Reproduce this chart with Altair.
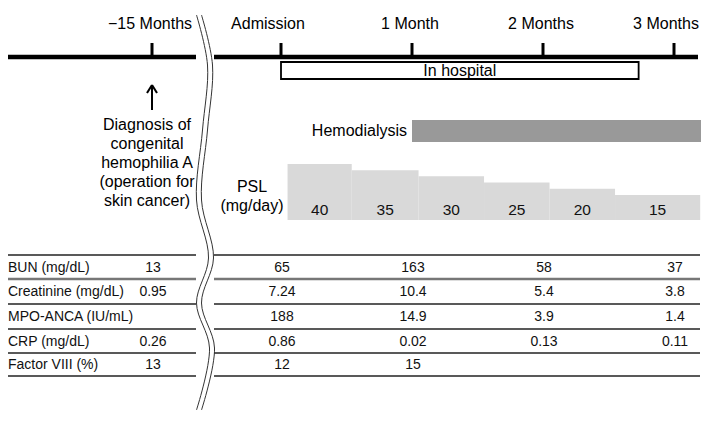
import altair as alt
import pandas as pd

# ---------------- data ----------------
TICK_MONTHS = [-15, 0, 1, 2, 3]
TICK_LABELS = ["−15 Months", "Admission", "1 Month", "2 Months", "3 Months"]

HOSPITAL_LABEL = "In hospital"
HOSPITAL_START = 0.0
HOSPITAL_END = 2.73

HD_LABEL = "Hemodialysis"
HD_START = 1.0

PSL_DOSE = [40, 35, 30, 25, 20, 15]
PSL_START = [0.05, 0.54, 1.05, 1.55, 2.05, 2.55]
PSL_END = [0.54, 1.05, 1.55, 2.05, 2.55, 3.2]

DIAGNOSIS_LINES = ["Diagnosis of", "congenital", "hemophilia A", "(operation for", "skin cancer)"]

ROW_LABELS = ["BUN (mg/dL)", "Creatinine (mg/dL)", "MPO-ANCA (IU/mL)", "CRP (mg/dL)", "Factor VIII (%)"]
COL_MONTHS = [-15, 0, 1, 2, 3]
BUN = ["13", "65", "163", "58", "37"]
CREATININE = ["0.95", "7.24", "10.4", "5.4", "3.8"]
MPO_ANCA = ["", "188", "14.9", "3.9", "1.4"]
CRP = ["0.26", "0.86", "0.02", "0.13", "0.11"]
FACTOR_VIII = ["13", "12", "15", "", ""]
TABLE_ROWS = [BUN, CREATININE, MPO_ANCA, CRP, FACTOR_VIII]

# ---------------- layout ----------------
W, H = 693, 412
PX_PER_MONTH = 131.0
ADM_PX = 281.0


def mx(px):
    return (px - ADM_PX) / PX_PER_MONTH


X_MIN, X_MAX = mx(8), mx(8 + W)
PRE_POS = mx(152)          # where the −15 month mark sits, left of the break
LEFT_END = mx(196)
RIGHT_START = mx(214)
TIMELINE_END = mx(698)
TABLE_END = mx(700)


def disp(m):
    return m if m >= 0 else PRE_POS


FONT = "Liberation Sans"
TOP_FS = 16
LABEL_DX = {"Admission": -13, "3 Months": -8}
xs = alt.Scale(domain=[X_MIN, X_MAX], nice=False, zero=False)
ys = alt.Scale(domain=[8, 420], reverse=True, nice=False, zero=False)


def X(f="x"):
    return alt.X(f, type="quantitative", scale=xs, axis=None)


def Y(f="y"):
    return alt.Y(f, type="quantitative", scale=ys, axis=None)


layers = []

# timeline
tl = pd.DataFrame({"x": [X_MIN, RIGHT_START], "x2": [LEFT_END, TIMELINE_END], "y": [57, 57]})
layers.append(alt.Chart(tl).mark_rule(strokeWidth=4.5, color="black").encode(
    x=X(), x2="x2", y=Y()))

ticks = pd.DataFrame({"x": [disp(m) for m in TICK_MONTHS], "label": TICK_LABELS,
                      "y": 43, "y2": 57, "ly": 24})
layers.append(alt.Chart(ticks).mark_rule(strokeWidth=3, color="black").encode(
    x=X(), y=Y(), y2="y2"))
cond = " && ".join(f"datum.label != '{k}'" for k in LABEL_DX)
layers.append(alt.Chart(ticks).transform_filter(cond).mark_text(
    font=FONT, fontSize=TOP_FS, color="black", baseline="middle", dx=-2).encode(
    x=X(), y=Y("ly"), text="label"))
for k, dxv in LABEL_DX.items():
    layers.append(alt.Chart(ticks).transform_filter(f"datum.label == '{k}'").mark_text(
        font=FONT, fontSize=TOP_FS, color="black", baseline="middle", dx=dxv).encode(
        x=X(), y=Y("ly"), text="label"))

# hospital stay
hosp = pd.DataFrame({"x": [HOSPITAL_START], "x2": [HOSPITAL_END], "y": [62], "y2": [79],
                     "label": [HOSPITAL_LABEL], "xm": [(HOSPITAL_START + HOSPITAL_END) / 2], "ym": [71]})
layers.append(alt.Chart(hosp).mark_rect(fill="white", stroke="black", strokeWidth=1.8).encode(
    x=X(), x2="x2", y=Y(), y2="y2"))
layers.append(alt.Chart(hosp).mark_text(font=FONT, fontSize=TOP_FS, color="black", baseline="middle").encode(
    x=X("xm"), y=Y("ym"), text="label"))

# hemodialysis
hd = pd.DataFrame({"x": [HD_START], "x2": [X_MAX], "y": [120], "y2": [142], "ym": [131], "label": [HD_LABEL]})
layers.append(alt.Chart(hd).mark_rect(color="#999999").encode(x=X(), x2="x2", y=Y(), y2="y2"))
layers.append(alt.Chart(hd).mark_text(font=FONT, fontSize=TOP_FS, color="black", baseline="middle",
                                      align="right", dx=-5).encode(x=X(), y=Y("ym"), text="label"))

# PSL labels
psl = pd.DataFrame({"x": PSL_START, "x2": PSL_END, "dose": PSL_DOSE})
psl["xm"] = (psl["x"] + psl["x2"]) / 2
psl["label"] = psl["dose"].astype(str)
psl["ly"] = 210
layers.append(alt.Chart(psl).mark_text(font=FONT, fontSize=15.5, color="#111", baseline="middle").encode(
    x=X("xm"), y=Y("ly"), text="label"))
pslt = pd.DataFrame({"x": [mx(252), mx(252)], "y": [187, 206], "label": ["PSL", "(mg/day)"]})
layers.append(alt.Chart(pslt).mark_text(font=FONT, fontSize=TOP_FS, color="black", baseline="middle").encode(
    x=X(), y=Y(), text="label"))

# diagnosis arrow + text
arrow = pd.DataFrame({"x": [PRE_POS, PRE_POS, PRE_POS], "y": [86, 85, 85],
                      "x2": [PRE_POS, PRE_POS - 5 / PX_PER_MONTH, PRE_POS + 5 / PX_PER_MONTH],
                      "y2": [110, 93, 93]})
layers.append(alt.Chart(arrow).mark_rule(strokeWidth=2, color="black").encode(
    x=X(), x2="x2", y=Y(), y2="y2"))
diag = pd.DataFrame({"label": DIAGNOSIS_LINES, "i": range(len(DIAGNOSIS_LINES))})
diag["x"] = mx(147)
diag["y"] = 125 + 19 * diag["i"]
layers.append(alt.Chart(diag).mark_text(font=FONT, fontSize=TOP_FS, color="black", baseline="middle").encode(
    x=X(), y=Y(), text="label"))

# table
LINE_Y = [255, 279, 304, 329, 353, 376]
tlines = []
for k, yv in enumerate(LINE_Y):
    for a, b in [(X_MIN, LEFT_END), (RIGHT_START, TABLE_END)]:
        tlines.append({"x": a, "x2": b, "y": yv, "grp": "gray" if k == 1 else "dark"})
tlines = pd.DataFrame(tlines)
layers.append(alt.Chart(tlines).transform_filter("datum.grp == 'dark'").mark_rule(
    strokeWidth=1.5, color="#222").encode(x=X(), x2="x2", y=Y()))
layers.append(alt.Chart(tlines).transform_filter("datum.grp == 'gray'").mark_rule(
    strokeWidth=2.5, color="#777").encode(x=X(), x2="x2", y=Y()))

row_y = [(LINE_Y[i] + LINE_Y[i + 1]) / 2 + 0.5 for i in range(len(ROW_LABELS))]
rl = pd.DataFrame({"label": ROW_LABELS, "y": row_y, "x": X_MIN})
layers.append(alt.Chart(rl).mark_text(font=FONT, fontSize=14, color="#111", baseline="middle",
                                      align="left").encode(x=X(), y=Y(), text="label"))
cells = []
for r, vals in enumerate(TABLE_ROWS):
    for c, v in enumerate(vals):
        if v:
            cells.append({"x": disp(COL_MONTHS[c]), "y": row_y[r], "label": v})
cells = pd.DataFrame(cells)
layers.append(alt.Chart(cells).mark_text(font=FONT, fontSize=14, color="#111", baseline="middle",
                                         dx=1).encode(x=X(), y=Y(), text="label"))

# break symbol (decoration)
WAVE_Y = [15, 65, 130, 200, 258, 303, 348, 410]
WAVE_DX = [0, 11, 6, 0, 12, 0, 13, 0]
wave = []
for line, off in [("a", 0), ("b", 5)]:
    for i, (yv, dxv) in enumerate(zip(WAVE_Y, WAVE_DX)):
        wave.append({"x": mx(196.5 + dxv + off), "y": yv, "i": i, "line": line})
wave = pd.DataFrame(wave)
layers.append(alt.Chart(wave).mark_line(strokeWidth=1, color="#333", interpolate="catmull-rom").encode(
    x=X(), y=Y(), order="i:O", detail="line:N"))

main = alt.layer(*layers)

# PSL bars on their own dose scale
dose_scale = alt.Scale(domain=[-166.5, 165.8], nice=False, zero=False)
bars = alt.Chart(psl).mark_rect(color="#d9d9d9").encode(
    x=X(), x2="x2",
    y=alt.Y("dose:Q", scale=dose_scale, axis=None),
    y2=alt.datum(-5.16))

chart = alt.layer(bars, main).resolve_scale(y="independent").properties(
    width=W, height=H, autosize=alt.AutoSizeParams(type="none"), padding=0,
    background="white").configure_view(stroke=None)

chart.save("out.html", embed_options={"renderer": "svg", "actions": False})
